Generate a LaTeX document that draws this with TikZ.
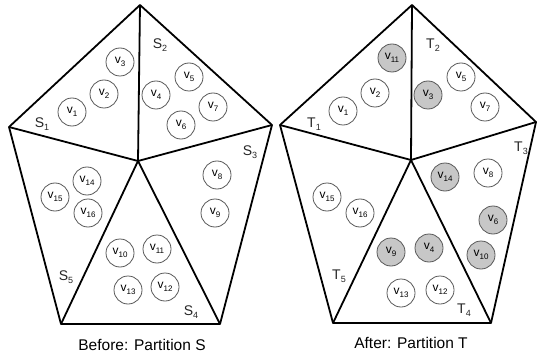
\documentclass[tikz,border=0pt]{standalone}
\usepackage{fontspec}
\setmainfont{Liberation Sans}
\newcommand{\vlab}[1]{v\raisebox{-0.45ex}{\fontsize{8}{8}\selectfont #1}}
\newcommand{\plab}[2]{#1\raisebox{-0.4ex}{\fontsize{9}{9}\selectfont #2}}

\begin{document}
\begin{tikzpicture}[x=1pt, y=-1pt,
    part/.style={line width=1.8pt, line join=round},
    vtx/.style={circle, draw=black!65, line width=0.8pt, minimum size=28pt,
        inner sep=0pt, font=\fontsize{12}{12}\selectfont},
    moved/.style={vtx, fill=black!22},
    plabel/.style={font=\fontsize{14}{14}\selectfont, inner sep=0pt, text=black!85},
    caption/.style={font=\fontsize{15.5}{16}\selectfont}]
    \useasboundingbox (0,0) rectangle (537,358);

    % corners of the two pentagons
    \coordinate (stop) at (140,5);
    \coordinate (sl)   at (9,127);
    \coordinate (sr)   at (272,125);
    \coordinate (sc)   at (138,161);
    \coordinate (sbl)  at (61,324);
    \coordinate (sbr)  at (220,324);
    \coordinate (ttop) at (412,5);
    \coordinate (tl)   at (280,125);
    \coordinate (tr)   at (536,122);
    \coordinate (tc)   at (411,160);
    \coordinate (tbl)  at (333,323);
    \coordinate (tbr)  at (491,323);

    \foreach \p in {s, t} {
        \draw[part] (\p top) -- (\p l) -- (\p bl) -- (\p br) -- (\p r) -- cycle;
        \foreach \c in {top, l, r, bl, br}
            \draw[part] (\p c) -- (\p\c);
    }

    % before: partition S
    \foreach \n/\x/\y in {
        1/72/112, 2/104/94, 3/120/62, 4/156/95, 5/189/77, 6/181/125,
        7/213/107, 8/217/175, 9/215/213, 10/120/253, 11/157/249,
        12/165/287, 13/128/290, 14/87/181, 15/55/197, 16/88/213%
    } {
        \node[vtx] (s\n) at (\x,\y) {\vlab{\n}};
    }
    \foreach \n/\x/\y in {1/42/124, 2/160/45, 3/250/152, 4/191/312, 5/66/277} {
        \node[plabel] (S\n) at (\x,\y) {\plab{S}{\n}};
    }
    \node[caption] (capS) at (142,345) {Before: Partition S};

    % after: partition T
    \foreach \n/\x/\y/\st in {
        1/343/111/vtx, 2/375/93/vtx, 11/392/58/moved, 3/428/95/moved,
        5/461/77/vtx, 7/485/107/vtx, 14/445/177/moved, 8/488/173/vtx,
        6/493/220/moved, 10/481/255/moved, 15/327/197/vtx, 16/360/213/vtx,
        9/391/252/moved, 4/429/248/moved, 13/401/293/vtx, 12/440/290/vtx%
    } {
        \node[\st] (t\n) at (\x,\y) {\vlab{\n}};
    }
    \foreach \n/\x/\y in {1/314/124, 2/433/45, 3/521/148, 4/464/310, 5/339/276} {
        \node[plabel] (T\n) at (\x,\y) {\plab{T}{\n}};
    }
    \node[caption] (capT) at (411,343) {After: Partition T};
\end{tikzpicture}
\end{document}
